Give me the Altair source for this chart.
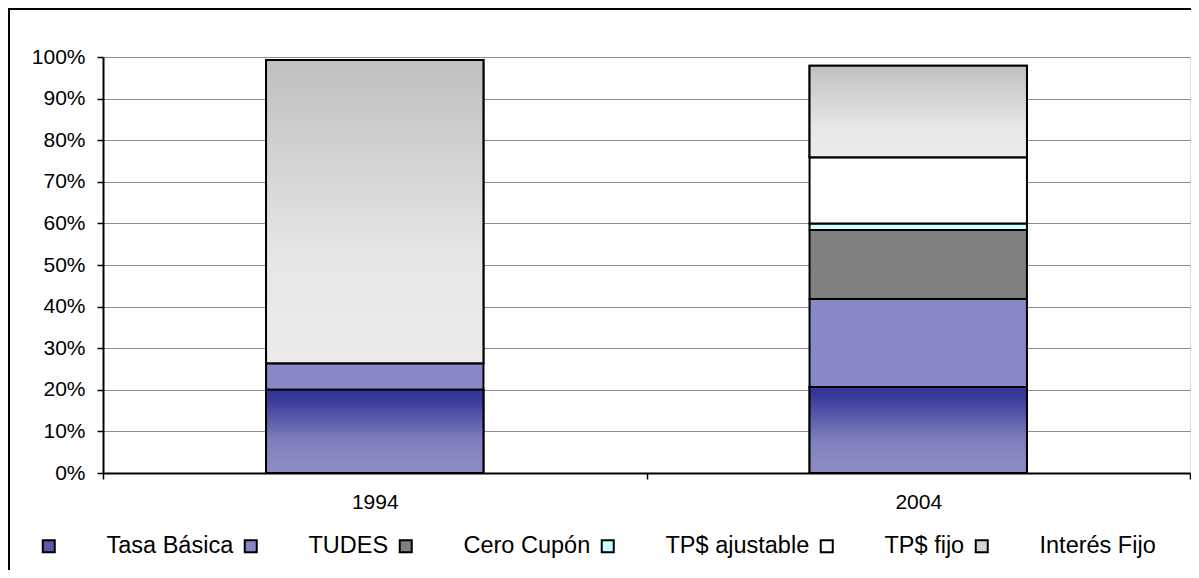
import altair as alt
import pandas as pd

# ---- data ----
years = ["1994", "2004"]
series = ["Tasa Básica", "TUDES", "Cero Cupón", "TP$ ajustable", "TP$ fijo", "Interés Fijo"]
values_1994 = [0.200, 0.064, 0.0, 0.0, 0.0, 0.729]
values_2004 = [0.207, 0.211, 0.166, 0.016, 0.159, 0.220]
legend_colors = ["#5a5aaa", "#8888c6", "#808080", "#ccffff", "#ffffff", "#d4d4d4"]
y_ticks = [0, 0.1, 0.2, 0.3, 0.4, 0.5, 0.6, 0.7, 0.8, 0.9, 1.0]

rows = []
for yr, vals in zip(years, [values_1994, values_2004]):
    for i, (s, v) in enumerate(zip(series, vals)):
        rows.append({"year": yr, "series": s, "value": v, "order": i})
df = pd.DataFrame(rows)

FONT = "Liberation Sans"

grad_tasa = alt.LinearGradient(
    gradient="linear", x1=0, x2=0, y1=0, y2=1,
    stops=[
        alt.GradientStop(color="#333399", offset=0),
        alt.GradientStop(color="#3a3a9c", offset=0.12),
        alt.GradientStop(color="#7e7ebb", offset=0.6),
        alt.GradientStop(color="#8a8ac2", offset=0.85),
        alt.GradientStop(color="#8c8cc4", offset=1),
    ],
)
grad_interes = alt.LinearGradient(
    gradient="linear", x1=0, x2=0, y1=0, y2=1,
    stops=[
        alt.GradientStop(color="#c0c0c0", offset=0),
        alt.GradientStop(color="#e6e6e6", offset=0.65),
        alt.GradientStop(color="#ececec", offset=1),
    ],
)

base = (
    alt.Chart(df)
    .transform_filter("datum.value > 0")
    .transform_stack(
        stack="value", groupby=["year"], as_=["y0", "y1"],
        sort=[alt.SortField("order", order="ascending")],
    )
)

x_enc = alt.X(
    "year:N",
    sort=years,
    scale=alt.Scale(paddingInner=0, paddingOuter=0),
    axis=alt.Axis(
        title=None, labelAngle=0, tickBand="extent", grid=False,
        labelFontSize=21, labelFont=FONT, labelColor="black", labelPadding=12,
        tickSize=6, tickColor="black", tickWidth=1.5,
        domainColor="black", domainWidth=2,
    ),
)
y_enc = alt.Y(
    "y0:Q",
    scale=alt.Scale(domain=[0, 1], nice=False),
    axis=alt.Axis(
        title=None, values=y_ticks, format=".0%",
        labelFontSize=21, labelFont=FONT, labelColor="black", labelPadding=12,
        tickSize=6, tickColor="black", tickWidth=1.5,
        domainColor="black", domainWidth=2,
        grid=True, gridColor="#8c8c8c", gridWidth=1,
    ),
)

bars = base.mark_bar(
    width=alt.RelativeBandSize(0.4), stroke="black", strokeWidth=2, opacity=1
).encode(
    x=x_enc,
    y=y_enc,
    y2="y1:Q",
    color=alt.Color(
        "series:N",
        scale=alt.Scale(domain=series, range=legend_colors),
        legend=alt.Legend(
            orient="none", direction="horizontal", columns=6,
            legendX=-66, legendY=477, title=None, padding=0,
            symbolType="square", symbolSize=144,
            symbolStrokeColor="black", symbolStrokeWidth=2, symbolOpacity=1,
            labelFontSize=23.5, labelFont=FONT, labelColor="black",
            labelOffset=46, columnPadding=5, labelLimit=400,
        ),
    ),
)

tasa = base.transform_filter(alt.datum.series == "Tasa Básica").mark_bar(
    width=alt.RelativeBandSize(0.4), stroke="black", strokeWidth=2, fill=grad_tasa
).encode(x=x_enc, y=y_enc, y2="y1:Q")

interes = base.transform_filter(alt.datum.series == "Interés Fijo").mark_bar(
    width=alt.RelativeBandSize(0.4), stroke="black", strokeWidth=2, fill=grad_interes
).encode(x=x_enc, y=y_enc, y2="y1:Q")

frame = alt.Chart(pd.DataFrame({"f": [0]})).mark_rect(
    filled=False, stroke="black", strokeWidth=2
).encode(
    x=alt.value(-94), x2=alt.value(1300), y=alt.value(-48), y2=alt.value(800)
)

chart = (
    alt.layer(frame, bars, tasa, interes)
    .properties(
        width=1087, height=416,
        autosize=alt.AutoSizeParams(type="none"),
        padding={"left": 95, "top": 49, "right": 1, "bottom": 97},
        background="white",
    )
    .configure_view(stroke="#8c8c8c", strokeWidth=2)
    .configure(font=FONT)
)

chart.save("out.html", embed_options={"renderer": "svg", "actions": False})
